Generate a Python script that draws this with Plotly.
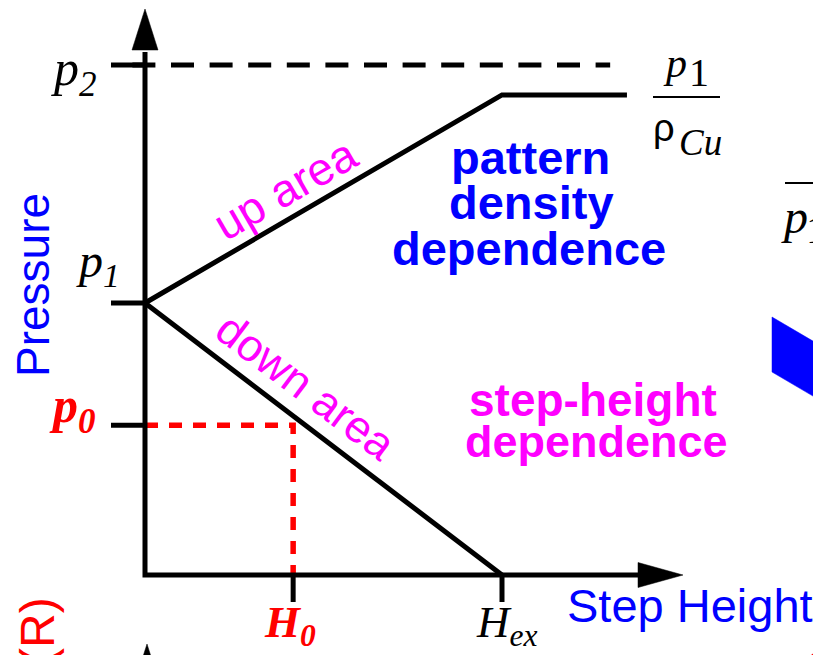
import plotly.graph_objects as go

# ---------------- data (axis units: step height normalised to H_ex, pressure to p1)
step_labels = ["H0", "Hex"]
step_heights = [0.415, 1.0]
pressure_labels = ["p0", "p1", "p2"]
pressure_levels = [0.551, 1.0, 1.875]
plateau_pressure = 1.765      # p1 / rho_Cu
plateau_end_height = 1.35
p2_line_end = 1.303

H0, HEX = step_heights
P0, P1, P2 = pressure_levels

# ---------------- geometry helpers (screen pixels -> axis units)
VIEW_W, VIEW_H = 821, 655
PAGE_OFFSET = 8                       # default body margin of the html page
W, H = VIEW_W - PAGE_OFFSET, VIEW_H - PAGE_OFFSET
X0_PX, Y0_PX = 145, 575
SX, SY = 357.0, 272.0


def dx(px):
    return (px - X0_PX) / SX


def dy(py):
    return (Y0_PX - py) / SY


x_range = [dx(PAGE_OFFSET), dx(VIEW_W)]
y_range = [dy(VIEW_H), dy(PAGE_OFFSET)]

BLACK = "#000000"
BLUE = "#0000ff"
MAGENTA = "#ff00ff"
RED = "#ff0000"
LW = 5

fig = go.Figure()


def line(xs, ys, color=BLACK, width=LW, dash="solid"):
    fig.add_trace(go.Scatter(x=xs, y=ys, mode="lines", hoverinfo="skip",
                             line=dict(color=color, width=width, dash=dash)))


def poly(xs, ys, color):
    fig.add_trace(go.Scatter(x=xs, y=ys, mode="lines", fill="toself",
                             fillcolor=color, hoverinfo="skip",
                             line=dict(color=color, width=0.5)))


# red projection of (H0, p0)
line([0, H0, H0], [P0, P0, 0], color=RED, width=5.5, dash="13px,11px")
# p2 dashed level
line([dx(132.4), p2_line_end], [P2, P2], dash="23px,15.6px")

# ticks
tx, ty = [], []
for p in pressure_levels:
    tx += [dx(111), 0, None]
    ty += [p, p, None]
for h in step_heights:
    tx += [h, h, None]
    ty += [0, dy(602), None]
line(tx, ty)

# up area (pattern density dependence) and down area
line([0, HEX, plateau_end_height], [P1, plateau_pressure, plateau_pressure])
line([0, HEX], [P1, 0])

# axes
line([0, 0, dx(640)], [dy(52), 0, 0])
# arrow heads
ah = 13 / SX
poly([-ah, ah, 0, -ah], [dy(50), dy(50), dy(9), dy(50)], BLACK)
av = 12.5 / SY
poly([dx(638), dx(638), dx(683), dx(638)], [av, -av, 0, av], BLACK)
# fragment of next panel's arrow at the bottom
poly([dx(134), dx(160), dx(147), dx(134)], [dy(685), dy(685), dy(644), dy(685)], BLACK)

# right-edge fragments
poly([dx(772), dx(840), dx(840), dx(772), dx(772)],
     [dy(317), dy(357), dy(412), dy(372), dy(317)], BLUE)
line([dx(653), dx(720)], [dy(97), dy(97)], width=2)
line([dx(785), dx(830)], [dy(183), dy(183)], width=2)
line([dx(811), dx(823)], [dy(657), dy(647)], color=RED, width=3)

# ---------------- text
SANS = "Liberation Sans"
SERIF = "Liberation Serif"
ann = []


def text(t, px, py, size, color=BLACK, family=SANS, angle=0, xanchor="center"):
    ann.append(dict(text=t, x=dx(px), y=dy(py), xref="x", yref="y",
                    showarrow=False, textangle=angle, xanchor=xanchor,
                    yanchor="middle",
                    font=dict(family=family, size=size, color=color)))


# axis titles
text("Pressure", 33, 285, 46, BLUE, angle=-90)
text("Step Height", 690, 605, 47, BLUE)

# tick labels
text("<i>p</i><sub><i>2</i></sub>", 49, 72, 50, family=SERIF, xanchor="left")
text("<i>p</i><sub><i>1</i></sub>", 74, 264, 48, family=SERIF, xanchor="left")
text("<b><i>p</i><sub><i>0</i></sub></b>", 47, 409, 50, RED, family=SERIF, xanchor="left")
text("<b><i>H</i><sub><i>0</i></sub></b>", 262, 625, 45, RED, family=SERIF, xanchor="left")
text("<i>H</i><sub><i>ex</i></sub>", 474, 625, 45, family=SERIF, xanchor="left")

# p1 / rho_Cu
text("<i>p</i>", 661, 63, 42, family=SERIF, xanchor="left")
text("1", 687, 72, 40, family=SERIF, xanchor="left")
text("ρ", 651, 128, 38, family=SANS, xanchor="left")
text("<i>Cu</i>", 677, 142, 37, family=SERIF, xanchor="left")
# right fragment
text("<i>p</i>", 779, 216, 48, family=SERIF, xanchor="left")
text("1", 804, 229, 41, family=SERIF, xanchor="left")

# region labels
text("up area", 285, 189, 46, MAGENTA, angle=-30)
text("down area", 306, 386, 45, MAGENTA, angle=37)
text("<b>pattern</b>", 530, 157, 47, BLUE)
text("<b>density</b>", 531, 202, 47, BLUE)
text("<b>dependence</b>", 529, 248, 47, BLUE)
text("<b>step-height</b>", 593, 400, 46, MAGENTA)
text("<b>dependence</b>", 596, 441, 45, MAGENTA)
text("(R)", 37, 631, 48, RED, angle=-90)

fig.update_layout(
    width=W, height=H,
    margin=dict(l=0, r=0, t=0, b=0),
    paper_bgcolor="white", plot_bgcolor="white",
    showlegend=False,
    xaxis=dict(range=x_range, visible=False, fixedrange=True),
    yaxis=dict(range=y_range, visible=False, fixedrange=True),
    annotations=ann,
)

fig.write_html("out.html")
